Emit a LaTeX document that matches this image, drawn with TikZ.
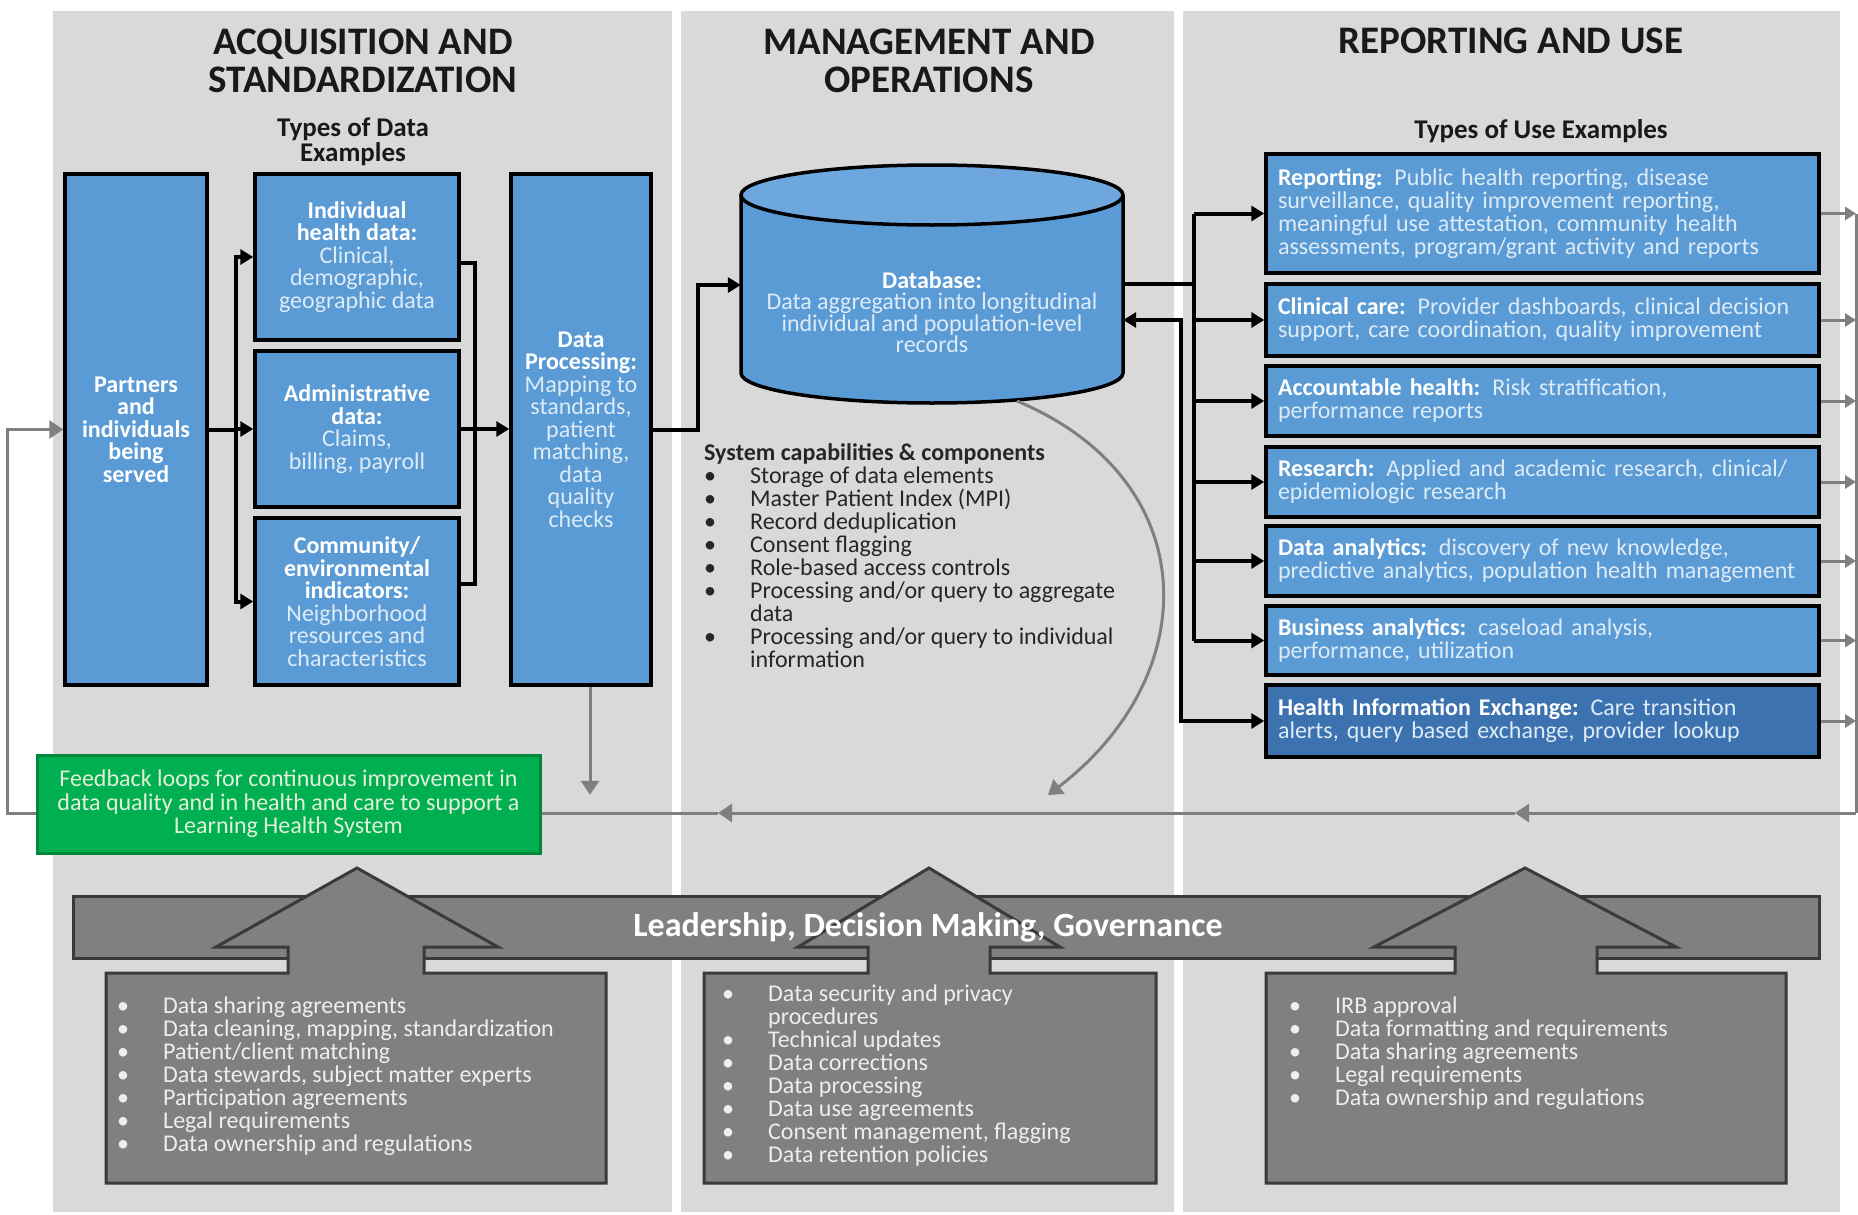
\documentclass[tikz,border=0pt]{standalone}
\usepackage{fontspec}
\setmainfont{Carlito}
\usetikzlibrary{arrows.meta}
\definecolor{panel}{HTML}{D9D9D9}
\definecolor{boxblue}{HTML}{5B9BD5}
\definecolor{hieblue}{HTML}{3D72B0}
\definecolor{dbtop}{HTML}{6DA7DE}
\definecolor{lb}{HTML}{DDEBF7}
\definecolor{gline}{HTML}{7F7F7F}
\definecolor{gfill}{HTML}{808080}
\definecolor{gdark}{HTML}{3A3A3A}
\definecolor{grn}{HTML}{00B050}
\definecolor{grnborder}{HTML}{00873C}
\definecolor{grntext}{HTML}{E2EFDA}
\definecolor{btext}{HTML}{EEEEEE}
\definecolor{dtext}{HTML}{262626}
\newcommand\fs[2]{\fontsize{#1}{#2}\selectfont}
\newcommand\bul{\makebox[46pt][l]{\textbullet}}
\newcommand\bulind{\hspace*{46pt}}
\newcommand\fl{\rule{0pt}{18pt}}
\newcommand\hd[1]{\textcolor{white}{\bfseries #1}}
\begin{document}
\begin{tikzpicture}[x=1pt,y=-1pt,
  title/.style={font=\bfseries\fs{39}{38}, text=black!90, align=center},
  subtitle/.style={font=\bfseries\fs{27}{25}, text=black!90, align=center},
  bbox/.style={draw=black, line width=3.5pt, fill=boxblue, inner sep=0pt, align=center, text=lb, font=\fs{24}{22.5}},
  rbox/.style={draw=black, line width=3.5pt, fill=boxblue, inner xsep=12pt, inner ysep=0pt, align=left, text width=529pt, text=lb, font=\fs{24}{23}},
  blk/.style={line width=4pt, black},
  blkarr/.style={blk, -{Triangle[length=13pt,width=15pt]}},
  gry/.style={line width=3pt, gline},
  gryarr/.style={gry, -{Triangle[length=14pt,width=18pt]}},
  grysmall/.style={gry, -{Triangle[length=11pt,width=13pt]}},
  gshape/.style={fill=gfill, draw=gdark, line width=3pt, line join=miter},
  list/.style={anchor=north west, align=left, inner sep=0pt, font=\fs{24}{23}},
  dbline/.style={line width=3.5pt, draw=black}
]
\useasboundingbox (0,0) rectangle (1858,1215);
\fill[white] (0,0) rectangle (1858,1215);
% panels
\fill[panel] (53,11) rectangle (672,1212);
\fill[panel] (681,11) rectangle (1174,1212);
\fill[panel] (1183,11) rectangle (1840,1212);
% titles
\node[title] (t1) at (363,61) {ACQUISITION AND\\STANDARDIZATION};
\node[title] (t2) at (929,61) {MANAGEMENT AND\\OPERATIONS};
\node[title] (t3) at (1511,41) {REPORTING AND USE};
\node[subtitle] (st1) at (353,142) {Types of Data\\Examples};
\node[subtitle] (st3) at (1541,131) {Types of Use Examples};
% panel 1 boxes
\node[bbox, minimum width=142pt, minimum height=511pt] (partners) at (136,429.5)
  {\hd{Partners}\\\hd{and}\\\hd{individuals}\\\hd{being}\\\hd{served}};
\node[bbox, minimum width=204pt, minimum height=166pt] (ind) at (357,257)
  {\hd{Individual}\\\hd{health data:}\\Clinical,\\demographic,\\geographic data};
\node[bbox, minimum width=204pt, minimum height=156pt] (adm) at (357,429)
  {\hd{Administrative}\\\hd{data:}\\Claims,\\billing, payroll};
\node[bbox, minimum width=204pt, minimum height=167pt] (com) at (357,601.5)
  {\hd{Community/}\\\hd{environmental}\\\hd{indicators:}\\Neighborhood\\resources and\\characteristics};
\node[bbox, minimum width=140pt, minimum height=511pt] (dp) at (581,429.5)
  {\hd{Data}\\\hd{Processing:}\\Mapping to\\standards,\\patient\\matching,\\data\\quality\\checks};
% database cylinder
\fill[boxblue] (741,195) rectangle (1123,373);
\fill[boxblue] (932,373) ellipse [x radius=191, y radius=30];
\draw[dbline] (741,195) -- (741,373) arc[start angle=180, end angle=0, x radius=191, y radius=30] -- (1123,195);
\filldraw[dbline, fill=dbtop] (932,195) ellipse [x radius=191, y radius=30];
\node[inner sep=0pt, minimum width=382pt, minimum height=240pt] (db) at (932,302) {};
\node[font=\fs{24}{21.5}, text=lb, align=center] (dbtext) at (932,312)
  {\hd{Database:}\\Data aggregation into longitudinal\\individual and population-level\\records};
\coordinate (dbbot) at (1017,401);
% system capabilities
\node[list, text=dtext] (caps) at (704,442)
  {\fl\textbf{System capabilities \& components}\\
   \bul Storage of data elements\\
   \bul Master Patient Index (MPI)\\
   \bul Record deduplication\\
   \bul Consent flagging\\
   \bul Role-based access controls\\
   \bul Processing and/or query to aggregate\\
   \bulind data\\
   \bul Processing and/or query to individual\\
   \bulind information};
% right boxes
\node[rbox, minimum height=119pt] (rep) at (1542.5,213.5)
  {\hd{Reporting:} Public health reporting, disease\\surveillance, quality improvement reporting,\\meaningful use attestation, community health\\assessments, program/grant activity and reports};
\node[rbox, minimum height=72pt] (clin) at (1542.5,320)
  {\hd{Clinical care:} Provider dashboards, clinical decision\\support, care coordination, quality improvement};
\node[rbox, minimum height=70pt] (acc) at (1542.5,401)
  {\hd{Accountable health:} Risk stratification,\\performance reports};
\node[rbox, minimum height=70pt] (res) at (1542.5,482)
  {\hd{Research:} Applied and academic research, clinical/\\epidemiologic research};
\node[rbox, minimum height=70pt] (dan) at (1542.5,561)
  {\hd{Data analytics:} discovery of new knowledge,\\predictive analytics, population health management};
\node[rbox, minimum height=69pt] (ban) at (1542.5,640.5)
  {\hd{Business analytics:} caseload analysis,\\performance, utilization};
\node[rbox, fill=hieblue, minimum height=72pt] (hie) at (1542.5,721)
  {\hd{Health Information Exchange:} Care transition\\alerts, query based exchange, provider lookup};
% panel 1 connectors
\coordinate (busL) at (236,429.5);
\draw[blk] (partners.east) -- (busL);
\draw[blkarr] (busL) |- (ind.west);
\draw[blkarr] (busL) -- (busL |- adm.west) -- (adm.west);
\draw[blkarr] (busL) |- (com.west);
\coordinate (busR) at (475,429);
\draw[blk] ([yshift=-6pt]ind.east) -| (busR);
\draw[blk] ([yshift=18pt]com.east) -| (busR);
\draw[blkarr] (adm.east) -- (dp.west |- adm.east);
\draw[blkarr] (dp.east) -- ++(45,0) |- ([yshift=17pt]db.west);
% database to uses
\coordinate (busD) at (1194,284);
\draw[blk] ([yshift=18pt]db.east) -- (busD);
\draw[blk] (busD |- rep.west) -- (busD |- ban.west);
\foreach \b in {rep,clin,acc,res,dan,ban} \draw[blkarr] (busD |- \b.west) -- (\b.west);
\draw[blk, {Triangle[length=13pt,width=15pt]}-{Triangle[length=13pt,width=15pt]}] ([yshift=-18pt]db.east) -- ++(58,0) |- (hie.west);
% gray feedback
\coordinate (rl) at (1856,813);
\foreach \b in {rep,clin,acc,res,dan,ban,hie} \draw[grysmall] (\b.east) -- (\b.east -| rl);
\draw[gry] (rl |- rep.east) -- (rl);
\draw[gryarr] (rl) -- (1515,813);
\draw[gryarr] (1515,813) -- (718,813);
\draw[gryarr] (718,813) -- (7,813) |- (partners.west);
\draw[gryarr] ([xshift=9pt]dp.south) -- ++(0,108);
\draw[gryarr] (dbbot) .. controls (1205,480) and (1205,675) .. (1048,795);
% green feedback box
\node[draw=grnborder, line width=3pt, fill=grn, minimum width=503pt, minimum height=98pt, inner sep=0pt, align=center, text=grntext, font=\fs{24}{23.5}] (fb) at (288.5,804)
  {Feedback loops for continuous improvement in\\data quality and in health and care to support a\\Learning Health System};
% leadership band and arrows
\draw[gshape] (73,896) rectangle (1819,958);
\draw[gshape] (106,1183) -- (106,973) -- (288,973) -- (288,947) -- (216,947) -- (357,868) -- (498,947) -- (424,947) -- (424,973) -- (606,973) -- (606,1183) -- cycle;
\draw[gshape] (704,1183) -- (704,973) -- (868,973) -- (868,947) -- (798,947) -- (929,868) -- (1060,947) -- (990,947) -- (990,973) -- (1156,973) -- (1156,1183) -- cycle;
\draw[gshape] (1266,1183) -- (1266,973) -- (1455,973) -- (1455,947) -- (1374,947) -- (1525,868) -- (1676,947) -- (1597,947) -- (1597,973) -- (1786,973) -- (1786,1183) -- cycle;
\node[font=\bfseries\fs{34}{40}, text=white] (lead) at (928,927) {Leadership, Decision Making, Governance};
\node[list, text=btext] (g1) at (117,995)
  {\fl\bul Data sharing agreements\\
   \bul Data cleaning, mapping, standardization\\
   \bul Patient/client matching\\
   \bul Data stewards, subject matter experts\\
   \bul Participation agreements\\
   \bul Legal requirements\\
   \bul Data ownership and regulations};
\node[list, text=btext] (g2) at (722,983)
  {\fl\bul Data security and privacy\\
   \bulind procedures\\
   \bul Technical updates\\
   \bul Data corrections\\
   \bul Data processing\\
   \bul Data use agreements\\
   \bul Consent management, flagging\\
   \bul Data retention policies};
\node[list, text=btext] (g3) at (1289,995)
  {\fl\bul IRB approval\\
   \bul Data formatting and requirements\\
   \bul Data sharing agreements\\
   \bul Legal requirements\\
   \bul Data ownership and regulations};
\end{tikzpicture}
\end{document}
